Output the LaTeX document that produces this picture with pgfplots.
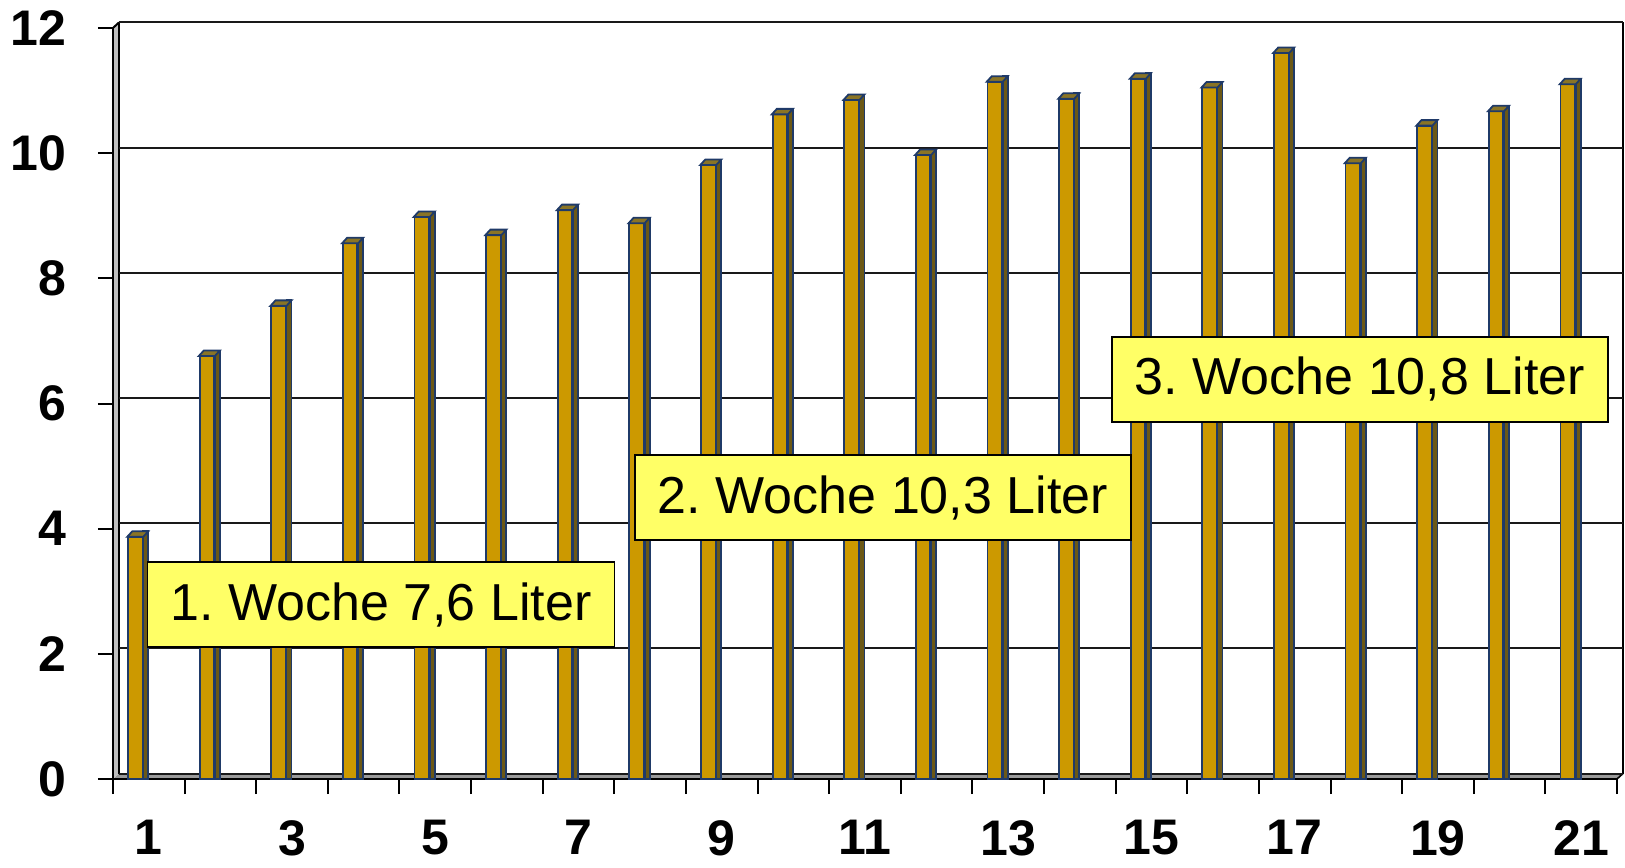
\documentclass[border=0pt]{standalone}
\usepackage{fontspec}
\setmainfont{Liberation Sans}
\usepackage{pgfplots}
\usepackage{pgfplotstable}
\pgfplotsset{compat=1.18}
\frenchspacing

\definecolor{gold}{HTML}{CC9900}
\definecolor{goldside}{HTML}{6B5816}
\definecolor{goldtop}{HTML}{8A7425}
\definecolor{navy}{HTML}{1F3A68}
\definecolor{boxyellow}{HTML}{FFFF66}
\definecolor{floorgrey}{HTML}{9A9A9A}

\tikzset{wochebox/.style={draw=black, line width=0.75pt, fill=boxyellow,
    minimum height=42.5pt, inner xsep=11.5pt, inner ysep=0pt,
    font=\fontsize{26}{31}\selectfont}}

% top face of a column, drawn at the top of each bar
\pgfdeclareplotmark{bartop}{%
  \pgfpathmoveto{\pgfqpoint{-10.75pt}{0pt}}%
  \pgfpathlineto{\pgfqpoint{-2.75pt}{0pt}}%
  \pgfpathlineto{\pgfqpoint{-0.25pt}{2.75pt}}%
  \pgfpathlineto{\pgfqpoint{-8.25pt}{2.75pt}}%
  \pgfpathclose
  \pgfusepathqfillstroke}

\pgfplotstableread{
day liter
1 3.87
2 6.76
3 7.56
4 8.56
5 8.98
6 8.69
7 9.09
8 8.88
9 9.81
10 10.62
11 10.85
12 9.97
13 11.14
14 10.87
15 11.19
16 11.05
17 11.60
18 9.84
19 10.44
20 10.67
21 11.10
}\daten

\begin{document}
\begin{tikzpicture}
\begin{axis}[
  set layers,
  scale only axis,
  width=752pt, height=375.5pt,
  xmin=0.5, xmax=21.5,
  ymin=0, ymax=12,
  clip=false,
  separate axis lines,
  axis x line*=bottom, axis y line*=left,
  x axis line style={-, line width=1pt},
  y axis line style={-, line width=1pt},
  xtick={0.5,1.5,...,21.5},
  x tick label as interval,
  xticklabels={1,{},3,{},5,{},7,{},9,{},11,{},13,{},15,{},17,{},19,{},21},
  ytick={0,2,...,12},
  tick align=outside,
  major tick length=7.5pt,
  tick style={black, line width=1pt},
  /pgf/number format/assume math mode=true,
  tick label style={font=\fontsize{25}{30}\selectfont\bfseries},
  yticklabel style={anchor=east, inner sep=0pt, xshift=-15.5pt},
  xticklabel style={anchor=north, inner sep=0pt, yshift=-13pt},
  ymajorgrids,
  major grid style={black!90, line width=1pt, xshift=3pt, yshift=2.75pt},
]
\begin{pgfonlayer}{axis background}
  % floor
  \fill[floorgrey] (rel axis cs:0,0) -- (rel axis cs:1,0)
    -- ([xshift=3pt,yshift=2.75pt]rel axis cs:1,0)
    -- ([xshift=3pt,yshift=2.75pt]rel axis cs:0,0) -- cycle;
  \draw[black, line width=0.8pt] ([xshift=3pt,yshift=2.75pt]rel axis cs:1,0) -- (rel axis cs:1,0);
  % left side wall, seen edge-on
  \fill[black!25] (rel axis cs:0,0) -- (rel axis cs:0,1)
    -- ([xshift=3pt,yshift=2.75pt]rel axis cs:0,1)
    -- ([xshift=3pt,yshift=2.75pt]rel axis cs:0,0) -- cycle;
  \draw[black, line width=1pt] ([xshift=3pt,yshift=2.75pt]rel axis cs:0,0)
    -- ([xshift=3pt,yshift=2.75pt]rel axis cs:0,1);
  \draw[black, line width=1pt] ([xshift=3pt,yshift=2.75pt]rel axis cs:1,0)
    -- ([xshift=3pt,yshift=2.75pt]rel axis cs:1,1);
  \draw[black, line width=1pt] (rel axis cs:0,1) -- ([xshift=3pt,yshift=2.75pt]rel axis cs:0,1);
\end{pgfonlayer}

% side faces
\addplot[ybar, bar width=2.5pt, bar shift=-1.5pt, fill=goldside, draw=navy, line width=0.9pt]
  table[x=day, y expr=\thisrow{liter}+0.088] {\daten};
% front faces
\addplot[ybar, bar width=7.25pt, bar shift=-6.75pt, fill=gold, draw=navy, line width=0.9pt]
  table[x=day, y=liter] {\daten};
% top faces
\addplot[only marks, mark=bartop, mark options={fill=goldtop, draw=navy, line width=0.9pt}]
  table[x=day, y=liter] {\daten};

\begin{pgfonlayer}{axis foreground}
  \node[wochebox] at (axis cs:4.242,2.788) {1. Woche 7,6 Liter};
  \node[wochebox] at (axis cs:11.251,4.498) {2. Woche 10,3 Liter};
  \node[wochebox] at (axis cs:17.911,6.387) {3. Woche 10,8 Liter};
\end{pgfonlayer}

\coordinate (bbsw) at (rel axis cs:-0.0751,-0.1172);
\coordinate (bbne) at (rel axis cs:1.00532,1.0373);
\end{axis}
\pgfresetboundingbox
\useasboundingbox (bbsw) rectangle (bbne);
\end{tikzpicture}
\end{document}
